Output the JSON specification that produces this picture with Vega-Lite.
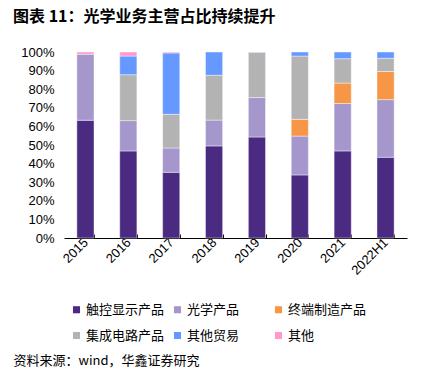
{
  "$schema": "https://vega.github.io/schema/vega-lite/v6.json",
  "autosize": {"type": "none"},
  "width": 343,
  "height": 186,
  "padding": {"left": 64, "top": 52, "right": 29, "bottom": 130},
  "background": "white",
  "title": {
    "text": "图表 11：光学业务主营占比持续提升",
    "anchor": "start",
    "frame": "group",
    "dx": -51,
    "offset": 21,
    "font": "Noto Sans CJK SC",
    "fontSize": 16,
    "fontWeight": "bold",
    "color": "#000000"
  },
  "data": {
    "values": [
      {"year": "2015", "cat": "触控显示产品", "k": 1, "v": 63.3},
      {"year": "2015", "cat": "光学产品", "k": 2, "v": 35.5},
      {"year": "2015", "cat": "其他", "k": 6, "v": 1.2},
      {"year": "2016", "cat": "触控显示产品", "k": 1, "v": 46.8},
      {"year": "2016", "cat": "光学产品", "k": 2, "v": 16.3},
      {"year": "2016", "cat": "集成电路产品", "k": 4, "v": 24.7},
      {"year": "2016", "cat": "其他贸易", "k": 5, "v": 10.0},
      {"year": "2016", "cat": "其他", "k": 6, "v": 2.2},
      {"year": "2017", "cat": "触控显示产品", "k": 1, "v": 35.3},
      {"year": "2017", "cat": "光学产品", "k": 2, "v": 13.1},
      {"year": "2017", "cat": "集成电路产品", "k": 4, "v": 18.1},
      {"year": "2017", "cat": "其他贸易", "k": 5, "v": 33.0},
      {"year": "2017", "cat": "其他", "k": 6, "v": 0.5},
      {"year": "2018", "cat": "触控显示产品", "k": 1, "v": 49.5},
      {"year": "2018", "cat": "光学产品", "k": 2, "v": 13.9},
      {"year": "2018", "cat": "集成电路产品", "k": 4, "v": 24.1},
      {"year": "2018", "cat": "其他贸易", "k": 5, "v": 12.5},
      {"year": "2019", "cat": "触控显示产品", "k": 1, "v": 54.3},
      {"year": "2019", "cat": "光学产品", "k": 2, "v": 21.2},
      {"year": "2019", "cat": "集成电路产品", "k": 4, "v": 24.2},
      {"year": "2019", "cat": "其他贸易", "k": 5, "v": 0.3},
      {"year": "2020", "cat": "触控显示产品", "k": 1, "v": 33.9},
      {"year": "2020", "cat": "光学产品", "k": 2, "v": 20.9},
      {"year": "2020", "cat": "终端制造产品", "k": 3, "v": 9.0},
      {"year": "2020", "cat": "集成电路产品", "k": 4, "v": 34.0},
      {"year": "2020", "cat": "其他贸易", "k": 5, "v": 2.2},
      {"year": "2021", "cat": "触控显示产品", "k": 1, "v": 46.8},
      {"year": "2021", "cat": "光学产品", "k": 2, "v": 25.5},
      {"year": "2021", "cat": "终端制造产品", "k": 3, "v": 11.0},
      {"year": "2021", "cat": "集成电路产品", "k": 4, "v": 13.1},
      {"year": "2021", "cat": "其他贸易", "k": 5, "v": 3.6},
      {"year": "2022H1", "cat": "触控显示产品", "k": 1, "v": 43.4},
      {"year": "2022H1", "cat": "光学产品", "k": 2, "v": 31.0},
      {"year": "2022H1", "cat": "终端制造产品", "k": 3, "v": 15.1},
      {"year": "2022H1", "cat": "集成电路产品", "k": 4, "v": 7.1},
      {"year": "2022H1", "cat": "其他贸易", "k": 5, "v": 3.4}
    ]
  },
  "mark": {"type": "bar", "stroke": "#ffffff", "strokeWidth": 0.6, "strokeOpacity": 0.7},
  "encoding": {
    "x": {
      "field": "year",
      "type": "ordinal",
      "scale": {"paddingInner": 0.6, "paddingOuter": 0.3},
      "axis": {
        "title": "资料来源：wind，华鑫证券研究",
        "titleFont": "Noto Sans CJK SC",
        "titleFontSize": 13,
        "titleFontWeight": "normal",
        "titleColor": "#000000",
        "titleAnchor": "start",
        "titleAlign": "left",
        "titleBaseline": "bottom",
        "titleX": -51,
        "titleY": 129,
        "labelAngle": -45,
        "labelAlign": "right",
        "labelBaseline": "middle",
        "labelFont": "Liberation Sans",
        "labelFontSize": 13,
        "labelColor": "#000000",
        "labelPadding": 6,
        "domainColor": "#000000",
        "domainWidth": 1,
        "tickBand": "extent",
        "tickColor": "#000000",
        "tickSize": -4,
        "tickWidth": 1
      }
    },
    "y": {
      "field": "v",
      "type": "quantitative",
      "stack": "zero",
      "scale": {"domain": [0, 100], "nice": false},
      "axis": {
        "title": null,
        "values": [0, 10, 20, 30, 40, 50, 60, 70, 80, 90, 100],
        "labelExpr": "datum.value + '%'",
        "labelFont": "Liberation Sans",
        "labelFontSize": 13,
        "labelColor": "#000000",
        "labelPadding": 10,
        "domain": false,
        "ticks": false,
        "grid": false
      }
    },
    "color": {
      "field": "cat",
      "type": "nominal",
      "scale": {
        "domain": ["触控显示产品", "光学产品", "终端制造产品", "集成电路产品", "其他贸易", "其他"],
        "range": ["#4B2A82", "#A597CC", "#F79646", "#B3B3B3", "#6699FF", "#FF99CC"]
      },
      "legend": {
        "title": null,
        "orient": "none",
        "direction": "horizontal",
        "legendX": 6,
        "legendY": 251,
        "columns": 3,
        "gridAlign": "all",
        "columnPadding": 6,
        "rowPadding": 12,
        "symbolType": "square",
        "symbolSize": 50,
        "symbolStrokeWidth": 0,
        "labelFont": "Noto Sans CJK SC",
        "labelFontSize": 13,
        "labelColor": "#000000",
        "labelOffset": 3,
        "labelLimit": 200
      }
    },
    "order": {"field": "k", "type": "quantitative", "sort": "ascending"}
  },
  "config": {"view": {"stroke": null}}
}
